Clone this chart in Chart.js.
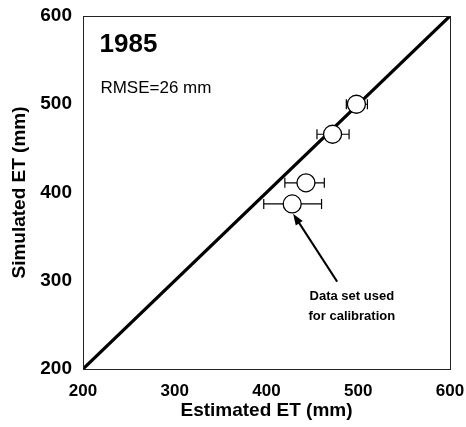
<!DOCTYPE html>
<html>
<head>
<meta charset="utf-8">
<script src="https://cdn.jsdelivr.net/npm/chart.js@4.4.1/dist/chart.umd.min.js"></script>
<style>
  html, body { margin: 0; padding: 0; background: #fff; }
  #wrap { width: 466px; height: 427px; }
</style>
</head>
<body>
<div id="wrap"><canvas id="graph" width="466" height="427"></canvas></div>
<script>
// valeurs
var estime = [498, 472, 443, 428];      // ET estimée (mm)
var simule = [500, 466, 411, 387];      // ET simulée (mm)
var estimeMin = [487, 455, 420, 397];   // barre d'erreur gauche
var estimeMax = [510, 490, 463, 460];   // barre d'erreur droite
var ligne11 = [200, 600];               // droite 1:1
var graduations = [200, 300, 400, 500, 600];

var police = '"Liberation Sans", Arial, Helvetica, sans-serif';

var points = [];
for (var i = 0; i < estime.length; i++) {
  points.push({ x: estime[i], y: simule[i] });
}
var diag = ligne11.map(function(v) { return { x: v, y: v }; });

// cadre, barres d'erreur, textes et flèche
var decor = {
  id: 'decor',
  beforeDatasetsDraw: function(chart) {
    var ctx = chart.ctx, sx = chart.scales.x, sy = chart.scales.y;
    ctx.save();
    ctx.strokeStyle = '#000';
    ctx.lineWidth = 1.2;
    for (var i = 0; i < estime.length; i++) {
      var y = sy.getPixelForValue(simule[i]);
      var x1 = sx.getPixelForValue(estimeMin[i]);
      var x2 = sx.getPixelForValue(estimeMax[i]);
      ctx.beginPath();
      ctx.moveTo(x1, y); ctx.lineTo(x2, y);
      ctx.moveTo(x1, y - 5); ctx.lineTo(x1, y + 5);
      ctx.moveTo(x2, y - 5); ctx.lineTo(x2, y + 5);
      ctx.stroke();
    }
    ctx.restore();
  },
  afterDatasetsDraw: function(chart) {
    var ctx = chart.ctx, a = chart.chartArea, sx = chart.scales.x, sy = chart.scales.y;
    ctx.save();
    ctx.strokeStyle = '#222';
    ctx.lineWidth = 1;
    ctx.strokeRect(a.left + 0.5, a.top + 0.5, a.right - a.left, a.bottom - a.top);

    ctx.fillStyle = '#000';
    ctx.textBaseline = 'middle';
    ctx.textAlign = 'left';
    ctx.font = 'bold 26px ' + police;
    ctx.fillText('1985', sx.getPixelForValue(218), sy.getPixelForValue(567));
    ctx.font = '17px ' + police;
    ctx.fillText('RMSE=26 mm', sx.getPixelForValue(219), sy.getPixelForValue(518));

    ctx.textAlign = 'center';
    ctx.font = 'bold 13px ' + police;
    ctx.fillText('Data set used', sx.getPixelForValue(493), sy.getPixelForValue(282));
    ctx.fillText('for calibration', sx.getPixelForValue(493), sy.getPixelForValue(260));

    // flèche vers le point de calage
    var x0 = sx.getPixelForValue(477), y0 = sy.getPixelForValue(299);
    var xf = sx.getPixelForValue(429), yf = sy.getPixelForValue(376);
    var ang = Math.atan2(yf - y0, xf - x0);
    ctx.lineWidth = 2;
    ctx.strokeStyle = '#000';
    ctx.beginPath();
    ctx.moveTo(x0, y0);
    ctx.lineTo(xf - 8 * Math.cos(ang), yf - 8 * Math.sin(ang));
    ctx.stroke();
    ctx.beginPath();
    ctx.moveTo(xf, yf);
    ctx.lineTo(xf - 12 * Math.cos(ang - 0.35), yf - 12 * Math.sin(ang - 0.35));
    ctx.lineTo(xf - 12 * Math.cos(ang + 0.35), yf - 12 * Math.sin(ang + 0.35));
    ctx.closePath();
    ctx.fill();
    ctx.restore();
  }
};

const config = {
  type: 'scatter',
  data: {
    datasets: [
      {
        label: 'points',
        data: points,
        order: 0,
        pointRadius: 9,
        pointHoverRadius: 9,
        pointBackgroundColor: '#fff',
        pointBorderColor: '#000',
        pointBorderWidth: 1.3
      },
      {
        label: '1:1',
        type: 'line',
        data: diag,
        order: 1,
        borderColor: '#000',
        borderWidth: 3.2,
        pointRadius: 0,
        fill: false
      }
    ]
  },
  options: {
    responsive: false,
    animation: false,
    events: [],
    layout: { padding: { left: 0, top: 16, right: 16, bottom: 0 } },
    plugins: {
      legend: { display: false },
      tooltip: { enabled: false }
    },
    scales: {
      x: {
        type: 'linear',
        min: 200, max: 600,
        afterBuildTicks: function(s) { s.ticks = graduations.map(function(v) { return { value: v }; }); },
        afterFit: function(s) { s.height = 58; s.paddingLeft = 0; s.paddingRight = 0; },
        grid: { display: false, drawTicks: false },
        border: { display: false },
        ticks: { color: '#000', padding: 12, maxRotation: 0, font: { family: police, size: 17, weight: 'bold' } },
        title: { display: true, text: 'Estimated ET (mm)', color: '#000', padding: { top: 0, bottom: 5 }, font: { family: police, size: 19, weight: 'bold' } }
      },
      y: {
        type: 'linear',
        min: 200, max: 600,
        afterBuildTicks: function(s) { s.ticks = graduations.map(function(v) { return { value: v }; }); },
        afterFit: function(s) { s.width = 83; s.paddingTop = 0; s.paddingBottom = 0; },
        grid: { display: false, drawTicks: false },
        border: { display: false },
        ticks: { color: '#000', padding: 11, font: { family: police, size: 19, weight: 'bold' } },
        title: { display: true, text: 'Simulated ET (mm)', color: '#000', padding: { top: 8, bottom: 0 }, font: { family: police, size: 19, weight: 'bold' } }
      }
    }
  },
  plugins: [decor]
};

const graph = new Chart(document.getElementById('graph'), config);
</script>
</body>
</html>
